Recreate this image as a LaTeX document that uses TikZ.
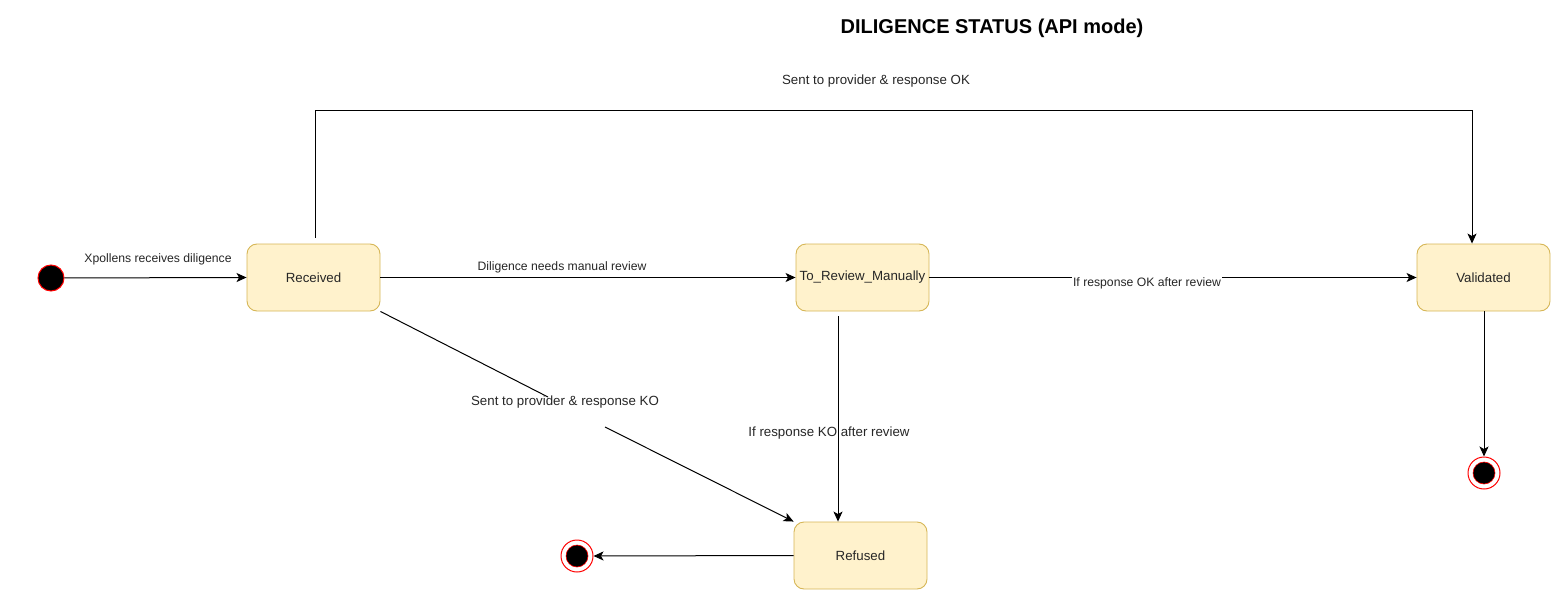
\documentclass[tikz,border=0pt]{standalone}
\usepackage{fontspec}
\setmainfont{Liberation Sans}
\usetikzlibrary{arrows.meta}
\definecolor{stfill}{HTML}{FFF2CC}
\definecolor{stdraw}{HTML}{D6B656}
\definecolor{edge}{HTML}{000000}
\begin{document}
\begin{tikzpicture}[x=1pt,y=-1pt,
  state/.style={draw=stdraw,fill=stfill,rounded corners=10pt,line width=0.9pt,
    minimum width=133pt,minimum height=67pt,inner sep=0pt,
    font=\fontsize{13.3}{15}\selectfont,text=black!85},
  initst/.style={circle,draw=red,fill=black,line width=1pt,minimum size=26pt,inner sep=0pt},
  finring/.style={circle,draw=red,fill=white,line width=1pt,minimum size=32pt,inner sep=0pt},
  findot/.style={circle,draw=red,fill=black,line width=0.6pt,minimum size=22pt,inner sep=0pt},
  conn/.style={draw=edge,line width=1pt},
  arr/.style={conn,-{Stealth[length=10pt,width=9pt,inset=2.5pt]}},
  elabel/.style={font=\fontsize{12.2}{14}\selectfont,text=black!85,inner sep=1pt},
  elabelL/.style={font=\fontsize{13.3}{15}\selectfont,text=black!85,inner sep=1pt},
]
\useasboundingbox (0,0) rectangle (1563,599);

\node[font=\bfseries\fontsize{20}{23}\selectfont] (title) at (992,28) {DILIGENCE STATUS (API mode)};

\node[initst] (init) at (51,278) {};
\node[state] (rec) at (313.5,277.5) {Received};
\node[state] (rev) at (862.5,277.5) {To\_Review\_Manually};
\node[state] (val) at (1483.5,277.5) {Validated};
\node[state] (ref) at (860.5,555.5) {Refused};

\node[finring] (finV) at (1484,473) {};
\node[findot] (finVd) at (finV) {};
\node[finring] (finR) at (577,556) {};
\node[findot] (finRd) at (finR) {};

% initial -> received
\draw[arr] (init) -- (rec.west);
\node[elabel] (l1) at (158,259) {Xpollens receives diligence};

% received -> to review
\draw[arr] (rec.east) -- (rev.west);
\node[elabel] (l2) at (562,267) {Diligence needs manual review};

% to review -> validated
\draw[arr] (rev.east) -- (val.west);
\node[elabel,fill=white] (l3) at (1147,283) {If response OK after review};

% received -> validated (top loop)
\coordinate (c1) at (315,111);
\coordinate (c2) at (1472,111);
\draw[arr] ([yshift=6pt]rec.north -| c1) -- (c1) -- (c2) -- (val.north -| c2);
\node[elabelL] (l4) at (876,81) {Sent to provider \& response OK};

% received -> refused (diagonal with gap)
\coordinate (ko1) at (548,397);
\coordinate (ko2) at (605,427);
\draw[conn] (rec.south east) -- (ko1);
\draw[arr] (ko2) -- (ref.north west);
\node[elabelL] (l5) at (565,402) {Sent to provider \& response KO};

% to review -> refused
\coordinate (kx) at (838,0);
\draw[arr] ([yshift=-5pt]rev.south -| kx) -- (ref.north -| kx);
\node[elabelL] (l6) at (829,433) {If response KO after review};

% validated -> final
\draw[arr] (val.south -| finV) -- (finV.north);

% refused -> final
\draw[arr] (ref.west) -- (finR.east);
\end{tikzpicture}
\end{document}
